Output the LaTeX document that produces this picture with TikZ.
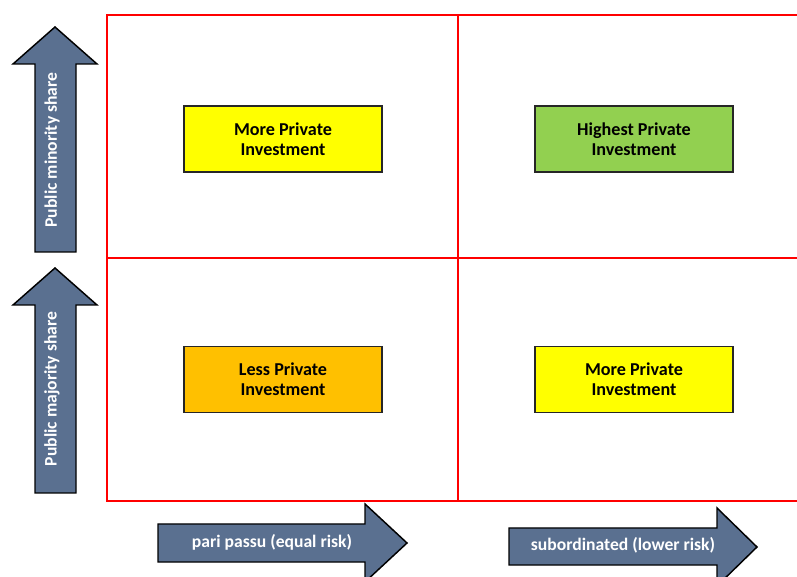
\documentclass[tikz,border=0pt]{standalone}
\usepackage{fontspec}
\setmainfont{Carlito}
\tikzset{
  grid line/.style={draw=red, line width=1.1pt},
  cellbox/.style={draw=black!85, line width=1.4pt, minimum width=148.5pt, minimum height=49.5pt, align=center, font=\bfseries\fontsize{13.6}{15}\selectfont},
  arrowshape/.style={draw=black, line width=1.1pt, fill=arrowblue},
  arrowtext/.style={text=white, font=\bfseries\fontsize{13.2}{15}\selectfont}
}
\definecolor{arrowblue}{HTML}{5A7090}
\definecolor{boxyellow}{HTML}{FFFF00}
\definecolor{boxgreen}{HTML}{92D050}
\definecolor{boxorange}{HTML}{FFC000}
\begin{document}
\begin{tikzpicture}[x=0.75pt, y=-0.75pt]
\useasboundingbox (0,0) rectangle (797,577);
% grid
\draw[grid line] (830,15) -- (107,15) -- (107,501) -- (830,501);
\draw[grid line] (458,15) -- (458,501);
\draw[grid line] (107,258) -- (830,258);
% cells
\node[cellbox, fill=boxyellow] (topleft) at (283,139) {More Private\\Investment};
\node[cellbox, fill=boxgreen] (topright) at (634,139) {Highest Private\\Investment};
\node[cellbox, fill=boxorange] (botleft) at (283,379.5) {Less Private\\Investment};
\node[cellbox, fill=boxyellow] (botright) at (634,379.5) {More Private\\Investment};
% vertical arrows
\draw[arrowshape] (35,252) -- (35,64) -- (13,64) -- (55,27) -- (97,64) -- (76,64) -- (76,252) -- cycle;
\node[arrowtext, rotate=90] (minority) at (52,150) {Public minority share};
\draw[arrowshape] (35,493) -- (35,305) -- (13,305) -- (55,268) -- (97,305) -- (76,305) -- (76,493) -- cycle;
\node[arrowtext, rotate=90] (majority) at (52,389) {Public majority share};
% horizontal arrows
\draw[arrowshape] (158,524) -- (365,524) -- (365,504) -- (407,543) -- (365,582) -- (365,562) -- (158,562) -- cycle;
\node[arrowtext] (paripassu) at (272,542) {pari passu (equal risk)};
\draw[arrowshape] (509,528) -- (717,528) -- (717,508) -- (757,547) -- (717,586) -- (717,565) -- (509,565) -- cycle;
\node[arrowtext] (subordinated) at (623,545) {subordinated (lower risk)};
\end{tikzpicture}
\end{document}
